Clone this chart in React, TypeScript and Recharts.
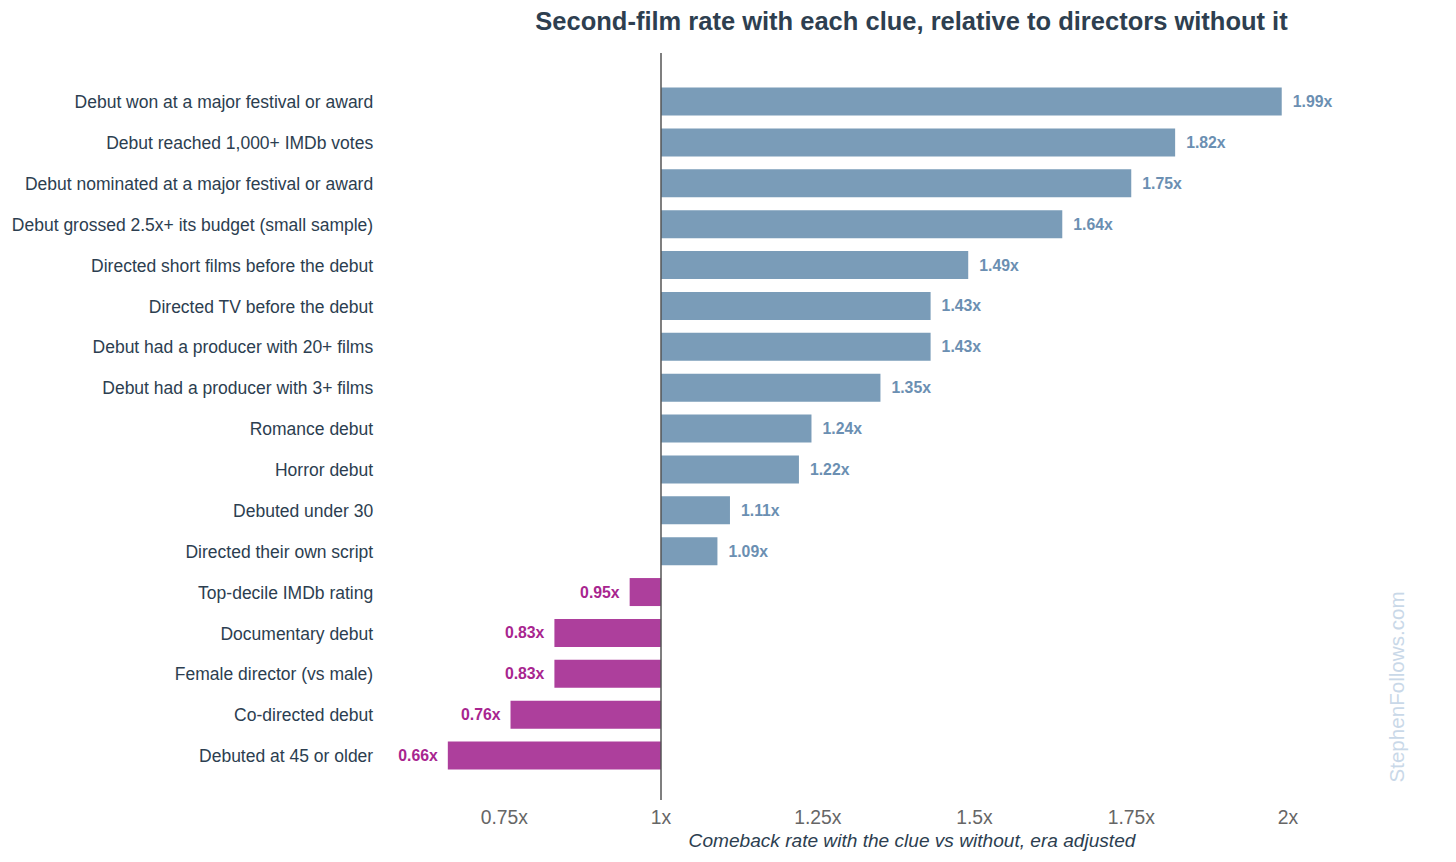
import React from "react";
import { BarChart, Bar, XAxis, YAxis, ReferenceLine, LabelList, Cell } from "recharts";

const categories = [
  "Debut won at a major festival or award",
  "Debut reached 1,000+ IMDb votes",
  "Debut nominated at a major festival or award",
  "Debut grossed 2.5x+ its budget (small sample)",
  "Directed short films before the debut",
  "Directed TV before the debut",
  "Debut had a producer with 20+ films",
  "Debut had a producer with 3+ films",
  "Romance debut",
  "Horror debut",
  "Debuted under 30",
  "Directed their own script",
  "Top-decile IMDb rating",
  "Documentary debut",
  "Female director (vs male)",
  "Co-directed debut",
  "Debuted at 45 or older",
];
const ratios = [1.99, 1.82, 1.75, 1.64, 1.49, 1.43, 1.43, 1.35, 1.24, 1.22, 1.11, 1.09, 0.95, 0.83, 0.83, 0.76, 0.66];
const xTicks = [0.75, 1, 1.25, 1.5, 1.75, 2];
const xTickLabels = ["0.75x", "1x", "1.25x", "1.5x", "1.75x", "2x"];
const baseline = 1;

const title = "Second-film rate with each clue, relative to directors without it";
const xLabel = "Comeback rate with the clue vs without, era adjusted";
const watermark = "StephenFollows.com";

const data = categories.map((name, i) => ({ name, value: ratios[i], range: [baseline, ratios[i]] }));

const FONT = "'Liberation Sans', Arial, Helvetica, sans-serif";
const BLUE = "#7a9cb8";
const BLUE_LABEL = "#6b8fb2";
const MAGENTA = "#ad3f9c";
const MAGENTA_LABEL = "#a8258f";

const renderLabel = (props: any) => {
  const { x, y, width, height, index } = props;
  const v = ratios[index];
  const pos = v >= baseline;
  const cy = y + height / 2;
  const left = Math.min(x, x + width);
  const right = Math.max(x, x + width);
  return (
    <text
      x={pos ? right + 11 : left - 10}
      y={cy}
      dy="0.35em"
      textAnchor={pos ? "start" : "end"}
      fontFamily={FONT}
      fontSize={15.8}
      fontWeight="bold"
      fill={pos ? BLUE_LABEL : MAGENTA_LABEL}
    >
      {v.toFixed(2) + "x"}
    </text>
  );
};

export default function App() {
  return (
    <div style={{ position: "relative", width: 1440, height: 846, background: "#fff", fontFamily: FONT }}>
      <BarChart
        width={1440}
        height={846}
        data={data}
        layout="vertical"
        margin={{ top: 45, right: 34.6, bottom: 24, left: 0 }}
        barSize={28}
      >
        <XAxis
          type="number"
          domain={[0.6, 2.2]}
          ticks={xTicks}
          tickFormatter={(v: number) => xTickLabels[xTicks.indexOf(v)]}
          axisLine={false}
          tickLine={false}
          tickSize={0}
          tickMargin={10}
          height={30}
          allowDataOverflow
          tick={{ fontFamily: FONT, fontSize: 19.3, fill: "#666666" }}
        />
        <YAxis
          type="category"
          dataKey="name"
          width={402.2}
          axisLine={false}
          tickLine={false}
          tickSize={0}
          tickMargin={37}
          padding={{ top: 28.6, bottom: 23.6 }}
          interval={0}
          tick={{ fontFamily: FONT, fontSize: 17.5, fill: "#2c3e50" }}
        />
        <Bar dataKey="range" isAnimationActive={false}>
          {data.map((d, i) => (
            <Cell key={i} fill={d.value >= baseline ? BLUE : MAGENTA} />
          ))}
          <LabelList dataKey="value" content={renderLabel} />
        </Bar>
        <ReferenceLine x={baseline} stroke="#555555" strokeWidth={1.5} ifOverflow="extendDomain" />
      </BarChart>
      <div
        style={{
          position: "absolute",
          left: 503.5 - 100,
          width: 1000,
          top: -2,
          textAlign: "center",
          fontSize: 25.5,
          lineHeight: "30px",
          fontWeight: "bold",
          color: "#2e3f50",
        }}
      >
        {title}
      </div>
      <div
        style={{
          position: "absolute",
          left: 504,
          width: 800,
          top: 821,
          textAlign: "center",
          fontSize: 19.1,
          lineHeight: "24px",
          fontStyle: "italic",
          color: "#2c3e50",
        }}
      >
        {xLabel}
      </div>
      <div
        style={{
          position: "absolute",
          left: 1389 - 150,
          width: 300,
          top: 679 - 13,
          textAlign: "center",
          fontSize: 20.6,
          lineHeight: "26px",
          color: "#c9d8e8",
          transform: "rotate(-90deg)",
        }}
      >
        {watermark}
      </div>
    </div>
  );
}
